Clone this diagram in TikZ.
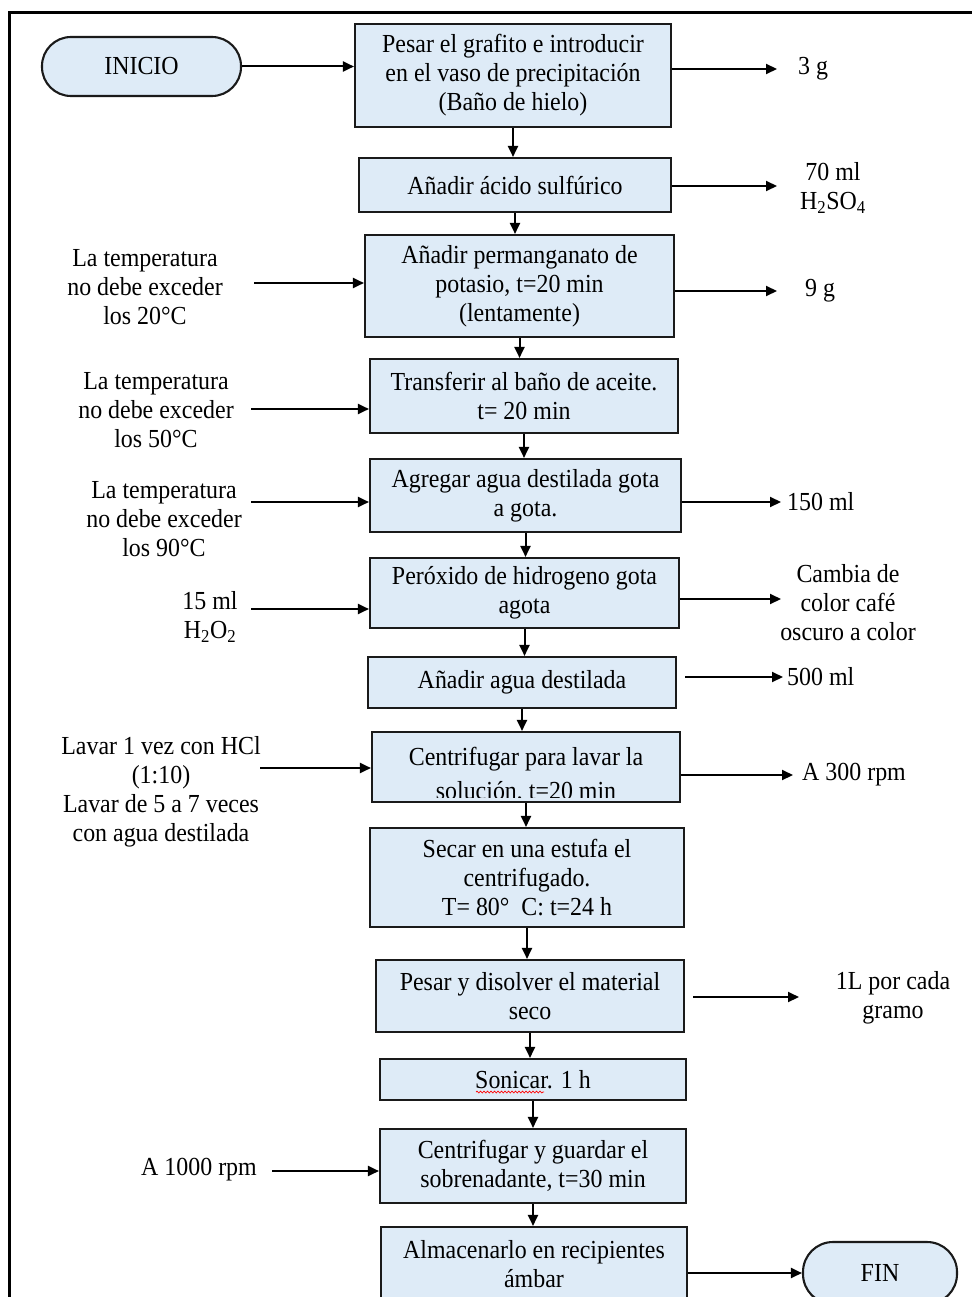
\documentclass[tikz,border=0pt]{standalone}
\usepackage{fontspec}
\setmainfont{Liberation Serif}[FakeStretch=0.92]
\usetikzlibrary{arrows.meta,decorations.pathmorphing}
\definecolor{boxfill}{HTML}{DEEBF7}
\definecolor{edge}{HTML}{1A1A1A}
\tikzset{
  proc/.style={draw=edge, line width=2.1pt, fill=boxfill, align=center, inner sep=0pt},
  term/.style={proc, rounded corners=29pt},
  lbl/.style={align=center, inner sep=0pt},
  arr/.style={line width=2pt, -{Triangle[length=11pt,width=10pt]}},
}
\begin{document}
\begin{tikzpicture}[x=1pt,y=-1pt,font=\fontsize{26}{29}\selectfont]
\useasboundingbox (0,0) rectangle (971,1297);
% frame
\draw[line width=3pt] (9,1310) -- (9,13) -- (985,13);

% terminals
\node[term, minimum width=199pt, minimum height=59pt] (start) at (141.5,66.5) {INICIO};
\node[term, rounded corners=30pt, minimum width=154pt, minimum height=62pt] (fin) at (880,1273) {FIN};

% process boxes
\node[proc, minimum width=316pt, minimum height=103pt] (b1) at (513,75.5) {Pesar el grafito e introducir\\en el vaso de precipitación\\(Baño de hielo)};
\node[proc, minimum width=312pt, minimum height=54pt] (b2) at (515,185) {Añadir ácido sulfúrico};
\node[proc, minimum width=309pt, minimum height=102pt] (b3) at (519.5,286) {Añadir permanganato de\\potasio, t=20 min\\(lentamente)};
\node[proc, minimum width=308pt, minimum height=74pt] (b4) at (524,396) {Transferir al baño de aceite.\\t= 20 min};
\node[proc, minimum width=311pt, minimum height=73pt] (b5) at (525.5,495.5) {Agregar agua destilada gota\\a gota.};
\node[proc, minimum width=309pt, minimum height=70pt] (b6) at (524.5,593) {Peróxido de hidrogeno gota\\agota};
\node[proc, minimum width=308pt, minimum height=51pt] (b7) at (522,682.5) {Añadir agua destilada};
\node[proc, minimum width=308pt, minimum height=70pt] (b8) at (526,767) {};
\begin{scope}
  \clip (b8.north west) rectangle ([yshift=6pt]b8.south east);
  \node[lbl, anchor=base] (t8a) at (526,765) {Centrifugar para lavar la};
  \node[lbl, anchor=base] (t8b) at (526,799) {solución, t=20 min};
\end{scope}
\node[proc, minimum width=314pt, minimum height=99pt] (b9) at (527,877.5) {Secar en una estufa el\\centrifugado.\\T= 80°\ \ C: t=24 h};
\node[proc, minimum width=308pt, minimum height=72pt] (b10) at (530,996) {Pesar y disolver el material\\seco};
\node[proc, minimum width=306pt, minimum height=41pt] (b11) at (533,1079.5) {Sonicar. 1 h};
\draw[red, line width=0.7pt, decorate, decoration={snake, amplitude=0.9pt, segment length=3.5pt}] (476,1092) -- (544,1092);
\node[proc, minimum width=306pt, minimum height=74pt] (b12) at (533,1166) {Centrifugar y guardar el\\sobrenadante, t=30 min};
\node[proc, minimum width=306pt, minimum height=74pt] (b13) at (534,1264) {Almacenarlo en recipientes\\ámbar};

% main flow
\draw[arr] (start.east) -- (start.east -| b1.west);
\draw[arr] (b1.south) -- (b1.south |- b2.north);
\draw[arr] (b2.south) -- (b2.south |- b3.north);
\draw[arr] (b3.south) -- (b3.south |- b4.north);
\draw[arr] (b4.south) -- (b4.south |- b5.north);
\draw[arr] (b5.south) -- (b5.south |- b6.north);
\draw[arr] (b6.south) -- (b6.south |- b7.north);
\draw[arr] (b7.south) -- (b7.south |- b8.north);
\draw[arr] (b8.south) -- (b8.south |- b9.north);
\draw[arr] (b9.south) -- (b9.south |- b10.north);
\draw[arr] (b10.south) -- (b10.south |- b11.north);
\draw[arr] (b11.south) -- (b11.south |- b12.north);
\draw[arr] (b12.south) -- (b12.south |- b13.north);
\draw[arr] (b13.east |- fin.west) -- (fin.west);

% right side outputs
\coordinate (a1) at (777,69);
\coordinate (a2) at (777,186);
\coordinate (a3) at (777,291);
\coordinate (a5) at (781,502);
\coordinate (a6) at (781,599);
\coordinate (a7) at (783,677);
\coordinate (a8) at (793,775);
\coordinate (a10) at (799,997);
\draw[arr] (b1.east |- a1) -- (a1);
\draw[arr] (b2.east |- a2) -- (a2);
\draw[arr] (b3.east |- a3) -- (a3);
\draw[arr] (b5.east |- a5) -- (a5);
\draw[arr] (b6.east |- a6) -- (a6);
\draw[arr] ([xshift=8pt]b7.east |- a7) -- (a7);
\draw[arr] (b8.east |- a8) -- (a8);
\draw[arr] ([xshift=8pt]b10.east |- a10) -- (a10);

\node[lbl, anchor=west] (r1) at (798,69) {3 g};
\node[lbl] (r2) at (833,188) {70 ml\\H\textsubscript{2}SO\textsubscript{4}};
\node[lbl, anchor=west] (r3) at (805,291) {9 g};
\node[lbl, anchor=west] (r5) at (787,502) {150 ml};
\node[lbl] (r6) at (848,603) {Cambia de\\color café\\oscuro a color};
\node[lbl, anchor=west] (r7) at (787,677) {500 ml};
\node[lbl, anchor=west] (r8) at (802,775) {A 300 rpm};
\node[lbl] (r10) at (893,998) {1L por cada\\gramo};

% left side inputs
\coordinate (s3) at (254,283);
\coordinate (s4) at (251,409);
\coordinate (s5) at (251,502);
\coordinate (s6) at (251,609);
\coordinate (s8) at (260,768);
\coordinate (s12) at (272,1171);
\draw[arr] (s3) -- (s3 -| b3.west);
\draw[arr] (s4) -- (s4 -| b4.west);
\draw[arr] (s5) -- (s5 -| b5.west);
\draw[arr] (s6) -- (s6 -| b6.west);
\draw[arr] (s8) -- (s8 -| b8.west);
\draw[arr] (s12) -- (s12 -| b12.west);

\node[lbl] (l3) at (145,287) {La temperatura\\no debe exceder\\los 20°C};
\node[lbl] (l4) at (156,410) {La temperatura\\no debe exceder\\los 50°C};
\node[lbl] (l5) at (164,519) {La temperatura\\no debe exceder\\los 90°C};
\node[lbl] (l6) at (210,617) {15 ml\\H\textsubscript{2}O\textsubscript{2}};
\node[lbl] (l8) at (161,792) {Lavar 1 vez con HCl\\(1:10)\\Lavar de 5 a 7 veces\\con agua destilada};
\node[lbl] (l12) at (199,1170) {A 1000 rpm};
\end{tikzpicture}
\end{document}
